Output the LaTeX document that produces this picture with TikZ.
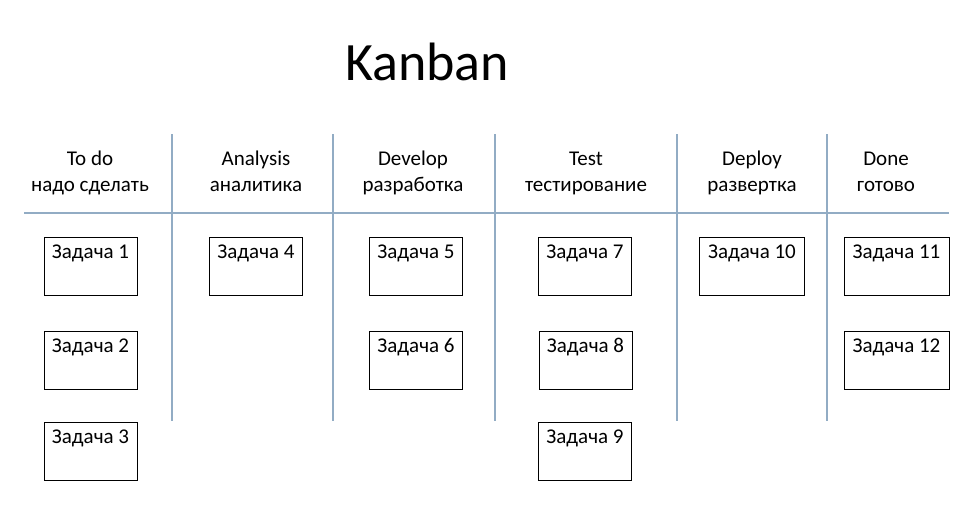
\documentclass[tikz,border=0pt]{standalone}
\usepackage{fontspec}
\setmainfont{Carlito}
\usepackage{xcolor}
\usetikzlibrary{positioning}
\definecolor{lanegray}{RGB}{146,172,196}
\tikzset{task/.style ={draw, line width=0.9pt, inner sep=0pt, minimum width=93pt, text height=21pt, text depth=37pt, font=\fontsize{21}{25}\selectfont}}
\tikzset{wide task/.style ={task, minimum width=105pt}}
\tikzset{lane head/.style ={align=center, font=\fontsize{21}{26}\selectfont}}
\tikzset{lane/.style ={draw=lanegray, line width=1.3pt}}

\begin{document}
\begin{tikzpicture}[x=1pt,y=-1pt]
{
\useasboundingbox (0,0) rectangle (979,519);
\node (title) [anchor=base, font=\fontsize{54}{62}\selectfont] at (427,80) {Kanban};
%lanes
\draw[lane] (24,213) -- (949,213);
\draw[lane] (172,134) -- (172,421);
\draw[lane] (333,134) -- (333,421);
\draw[lane] (495,134) -- (495,421);
\draw[lane] (677,134) -- (677,421);
\draw[lane] (827,134) -- (827,421);
\node (todo) [lane head, anchor=base] at (90,191) {To do\\надо сделать};
\node (analysis) [lane head, anchor=base] at (256,191) {Analysis\\аналитика};
\node (develop) [lane head, anchor=base] at (413,191) {Develop\\разработка};
\node (test) [lane head, anchor=base] at (586,191) {Test\\тестирование};
\node (deploy) [lane head, anchor=base] at (752,191) {Deploy\\развертка};
\node (done) [lane head, anchor=base] at (886,191) {Done\\готово};
%tasks
\node (t1) [task, anchor=north] at (90.5,237) {Задача 1};
\node (t2) [task, anchor=north] at (90.5,331) {Задача 2};
\node (t3) [task, anchor=north] at (90.5,422) {Задача 3};
\node (t4) [task, anchor=north] at (256,237) {Задача 4};
\node (t5) [task, anchor=north] at (416,237) {Задача 5};
\node (t6) [task, anchor=north] at (416,331) {Задача 6};
\node (t7) [task, anchor=north] at (585,237) {Задача 7};
\node (t8) [task, anchor=north] at (585.5,331) {Задача 8};
\node (t9) [task, anchor=north] at (585,422) {Задача 9};
\node (t10) [wide task, anchor=north] at (752,237) {Задача 10};
\node (t11) [wide task, anchor=north] at (896.5,237) {Задача 11};
\node (t12) [wide task, anchor=north] at (896.5,331) {Задача 12};
}
\end{tikzpicture}
\end{document}
